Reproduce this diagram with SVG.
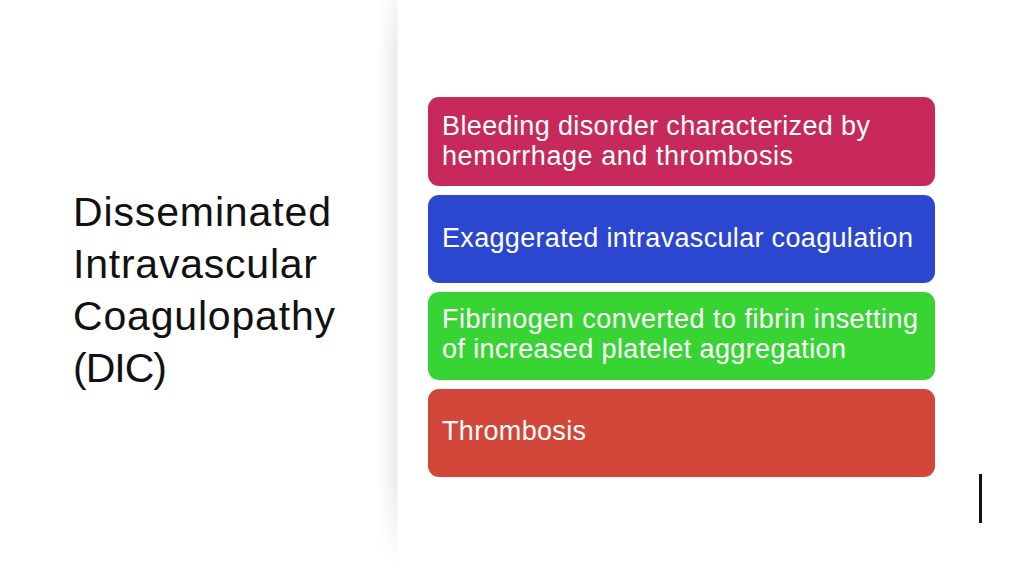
<svg xmlns="http://www.w3.org/2000/svg" width="1024" height="576" viewBox="0 0 1024 576">
  <defs>
    <linearGradient id="shH" x1="0" y1="0" x2="1" y2="0">
      <stop offset="0" stop-color="#ffffff"/>
      <stop offset="0.7" stop-color="#f0f0f0"/>
      <stop offset="0.9" stop-color="#eaeaea"/>
      <stop offset="1" stop-color="#f4f4f4"/>
    </linearGradient>
    <linearGradient id="shV" x1="0" y1="0" x2="0" y2="1">
      <stop offset="0" stop-color="#fff" stop-opacity="0.4"/>
      <stop offset="0.1" stop-color="#fff" stop-opacity="1"/>
      <stop offset="0.85" stop-color="#fff" stop-opacity="1"/>
      <stop offset="1" stop-color="#fff" stop-opacity="0"/>
    </linearGradient>
    <mask id="shMask">
      <rect x="378" y="0" width="20" height="565" fill="url(#shV)"/>
    </mask>
  </defs>
  <style>
    .title { font-family: "Liberation Sans", Arial, sans-serif; font-size: 41px; fill: #111111; }
    .lbl { font-family: "Liberation Sans", Arial, sans-serif; font-size: 27px; fill: #ffffff; }
  </style>
  <rect width="1024" height="576" fill="#ffffff"/>
  <rect x="378" y="0" width="20" height="565" fill="url(#shH)" mask="url(#shMask)"/>
  <g id="title">
    <text class="title" x="73" y="226" textLength="258" lengthAdjust="spacing">Disseminated</text>
    <text class="title" x="73" y="278" textLength="244" lengthAdjust="spacing">Intravascular</text>
    <text class="title" x="73" y="330" textLength="262" lengthAdjust="spacing">Coagulopathy</text>
    <text class="title" x="73" y="382" textLength="94" lengthAdjust="spacing">(DIC)</text>
  </g>
  <g id="node1">
    <rect x="428" y="97" width="507" height="89" rx="11" fill="#C7295A"/>
    <text class="lbl" x="442" y="135" textLength="428" lengthAdjust="spacing">Bleeding disorder characterized by</text>
    <text class="lbl" x="442" y="165" textLength="351" lengthAdjust="spacing">hemorrhage and thrombosis</text>
  </g>
  <g id="node2">
    <rect x="428" y="195" width="507" height="88" rx="11" fill="#2B47CF"/>
    <text class="lbl" x="442" y="247" textLength="471" lengthAdjust="spacing">Exaggerated intravascular coagulation</text>
  </g>
  <g id="node3">
    <rect x="428" y="292" width="507" height="88" rx="11" fill="#38D433"/>
    <text class="lbl" x="442" y="328" textLength="476" lengthAdjust="spacing">Fibrinogen converted to fibrin insetting</text>
    <text class="lbl" x="442" y="358" textLength="404" lengthAdjust="spacing">of increased platelet aggregation</text>
  </g>
  <g id="node4">
    <rect x="428" y="389" width="507" height="88" rx="11" fill="#D3473A"/>
    <text class="lbl" x="442" y="440" textLength="144" lengthAdjust="spacing">Thrombosis</text>
  </g>
  <g id="connectors"></g>
  <rect x="979" y="474" width="3" height="49" fill="#111111"/>
</svg>
